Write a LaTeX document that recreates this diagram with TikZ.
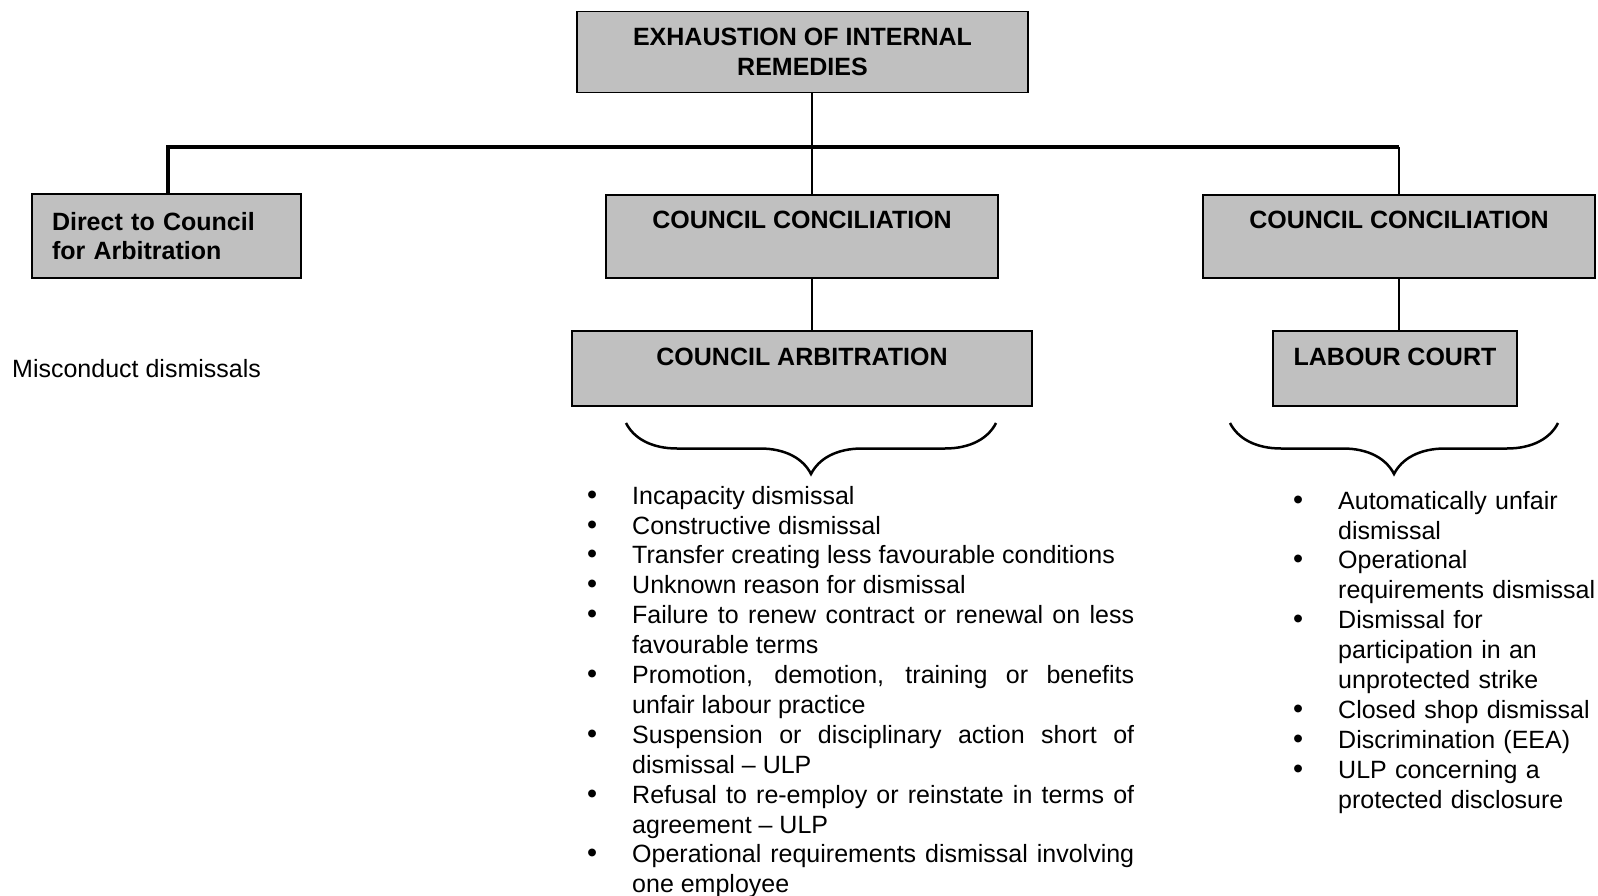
\documentclass[tikz,border=0pt]{standalone}
\usepackage{fontspec}
\setmainfont{Liberation Sans}
\usetikzlibrary{positioning, decorations.pathreplacing}
\definecolor{boxgray}{HTML}{C0C0C0}
\newcommand{\remitem}[1]{\par\noindent\hangindent=42pt\hangafter=1\strut\makebox[42pt][l]{\hspace{-3pt}\scalebox{1.15}{\textbullet}}#1\par}

\begin{document}
\begin{tikzpicture}[x=1pt, y=-1pt,
    every node/.style={font=\fontsize{25}{29.9}\selectfont},
    panel/.style={draw, line width=1.8pt, fill=boxgray, font=\fontsize{25}{29.8}\selectfont\bfseries, inner sep=0pt},
    stage/.style={panel, minimum width=392pt, text height=34pt, text depth=49pt},
    court/.style={panel, text height=35pt, text depth=40pt},
    feed/.style={line width=2.5pt},
    bus/.style={line width=3.5pt},
    bracket/.style={line width=2.5pt, decorate, decoration={brace, mirror, amplitude=51pt}},
    grounds/.style={anchor=north west, inner sep=0pt}]
    \useasboundingbox (0,0) rectangle (1598,896);
    % boxes
    \node[panel, minimum width=451pt, minimum height=81pt, align=center] (top) at (802.5,52) {EXHAUSTION OF INTERNAL\\REMEDIES};
    \node[panel, minimum width=269pt, minimum height=84pt, text width=229pt, align=left] (direct) at (166.5,236) {Direct to Council\\for Arbitration};
    \node[stage, anchor=north] (ccmid) at (802,194) {COUNCIL CONCILIATION};
    \node[stage, anchor=north] (ccright) at (1399,194) {COUNCIL CONCILIATION};
    \node[court, minimum width=460pt, below=51pt of ccmid] (arb) {COUNCIL ARBITRATION};
    \node[court, minimum width=244pt, below=51pt of ccright, xshift=-4pt] (lc) {LABOUR COURT};
    \node[anchor=base west, inner sep=0pt] (misc) at (12,377) {Misconduct dismissals};
    % connectors
    \coordinate (trunk) at (812,147);
    \draw[bus] ([xshift=1.5pt]direct.north) |- (ccright.north |- trunk);
    \draw[feed] (ccright.north |- trunk) -- (ccright.north);
    \draw[feed] (top.south -| trunk) -- (ccmid.north -| trunk);
    \draw[feed] (ccmid.south -| trunk) -- (arb.north -| trunk);
    \draw[feed] (ccright.south) -- (ccright.south |- lc.north);
    % braces
    \coordinate (ab1) at (626,423);
    \coordinate (ab2) at (996,423);
    \coordinate (lb1) at (1230,423);
    \coordinate (lb2) at (1558,423);
    \draw[bracket] (ab1) -- (ab2);
    \draw[bracket] (lb1) -- (lb2);
    % lists
    \node[grounds, text width=544pt, align=justify] (arblist) at (590,474) {%
        \remitem{Incapacity dismissal}
        \remitem{Constructive dismissal}
        \remitem{Transfer creating less favourable conditions}
        \remitem{Unknown reason for dismissal}
        \remitem{Failure to renew contract or renewal on less\linebreak favourable terms}
        \remitem{Promotion, demotion, training or benefits\linebreak unfair labour practice}
        \remitem{Suspension or disciplinary action short of\linebreak dismissal -- ULP}
        \remitem{Refusal to re-employ or reinstate in terms of\linebreak agreement -- ULP}
        \remitem{Operational requirements dismissal involving\linebreak one employee}};
    \node[grounds, text width=300pt, align=left] (lclist) at (1296,479) {%
        \remitem{Automatically unfair\newline dismissal}
        \remitem{Operational\newline requirements dismissal}
        \remitem{Dismissal for\newline participation in an\newline unprotected strike}
        \remitem{Closed shop dismissal}
        \remitem{Discrimination (EEA)}
        \remitem{ULP concerning a\newline protected disclosure}};
\end{tikzpicture}
\end{document}
